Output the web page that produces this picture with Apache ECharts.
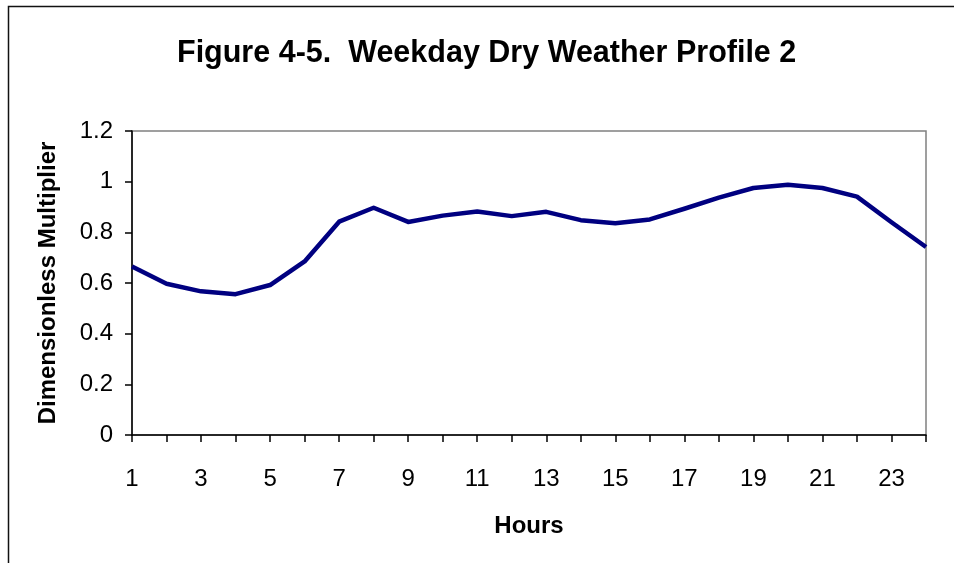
<!DOCTYPE html>
<html>
<head>
<meta charset="utf-8">
<script src="https://cdn.jsdelivr.net/npm/echarts@6/dist/echarts.min.js"></script>
<style>
    html, body { margin: 0; padding: 0; background: #fff; }
    #chart { width: 954px; height: 563px; }
</style>
</head>
<body>
<div id="chart"></div>
<script>
// hours of the day
var hours = ['1', '2', '3', '4', '5', '6', '7', '8', '9', '10', '11', '12',
             '13', '14', '15', '16', '17', '18', '19', '20', '21', '22', '23', '24'];
// dimensionless multiplier
var multiplier = [0.665, 0.597, 0.567, 0.556, 0.592, 0.685, 0.842, 0.897, 0.841, 0.866, 0.882, 0.864,
                  0.881, 0.848, 0.836, 0.851, 0.893, 0.937, 0.975, 0.988, 0.975, 0.941, 0.840, 0.742];
// y axis ticks
var yTicks = [0, 0.2, 0.4, 0.6, 0.8, 1, 1.2];

var font = 'Liberation Sans, Arial, sans-serif';

var option = {
    backgroundColor: '#ffffff',
    animation: false,
    title: {
        text: 'Figure 4-5.  Weekday Dry Weather Profile 2',
        left: 172,
        top: 33,
        textStyle: { fontFamily: font, fontSize: 30.5, fontWeight: 'bold', color: '#000' }
    },
    graphic: [{
        // outer chart frame (left and top edges visible)
        type: 'rect',
        shape: { x: 8.5, y: 6.5, width: 1200, height: 1000 },
        style: { fill: 'none', stroke: '#111', lineWidth: 1.5 },
        silent: true
    }],
    grid: {
        left: 132,
        right: 28,
        top: 131,
        bottom: 128,
        show: true,
        borderColor: '#808080',
        borderWidth: 1.5,
        backgroundColor: 'transparent'
    },
    xAxis: {
        type: 'category',
        data: hours,
        boundaryGap: false,
        name: 'Hours',
        nameLocation: 'middle',
        nameGap: 79,
        nameTextStyle: { fontFamily: font, fontSize: 24, fontWeight: 'bold', color: '#000' },
        axisLine: { lineStyle: { color: '#000', width: 1.5 } },
        axisTick: { show: true, interval: 0, length: 7, lineStyle: { color: '#000', width: 1.5 } },
        axisLabel: { interval: 1, margin: 32, fontFamily: font, fontSize: 24, color: '#000' },
        splitLine: { show: false }
    },
    yAxis: {
        type: 'value',
        min: yTicks[0],
        max: yTicks[yTicks.length - 1],
        interval: 0.2,
        name: 'Dimensionless Multiplier',
        nameLocation: 'middle',
        nameGap: 72,
        nameTextStyle: { fontFamily: font, fontSize: 24, fontWeight: 'bold', color: '#000' },
        axisLine: { show: true, lineStyle: { color: '#000', width: 1.5 } },
        axisTick: { show: true, length: 7, lineStyle: { color: '#000', width: 1.5 } },
        axisLabel: {
            margin: 19,
            fontFamily: font,
            fontSize: 24,
            color: '#000',
            formatter: function (v) { return String(Math.round(v * 10) / 10); }
        },
        splitLine: { show: false }
    },
    series: [{
        name: 'Multiplier',
        type: 'line',
        data: multiplier,
        symbol: 'none',
        lineStyle: { color: '#000080', width: 4.5, join: 'round' },
        itemStyle: { color: '#000080' }
    }]
};

var myChart = echarts.init(document.getElementById('chart'), null, { renderer: 'canvas' });
myChart.setOption(option);
</script>
</body>
</html>
